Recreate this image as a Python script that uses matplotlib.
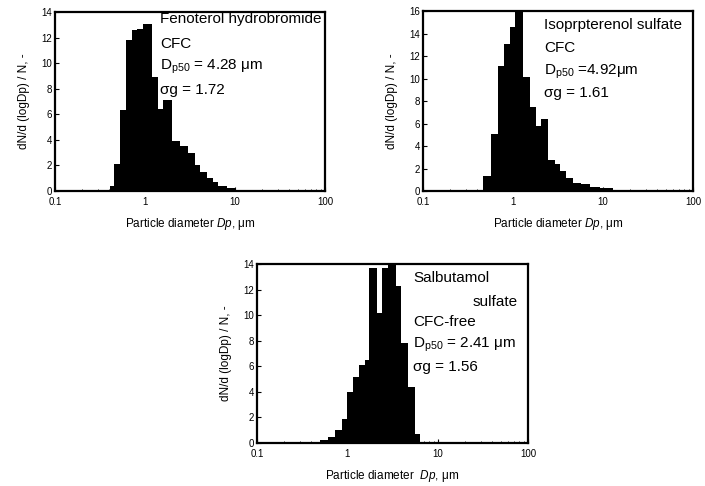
import numpy as np
import matplotlib
matplotlib.use('Agg')
import matplotlib.pyplot as plt

plt.rcParams['font.family'] = ['Liberation Sans', 'DejaVu Sans']
plt.rcParams['mathtext.fontset'] = 'custom'
plt.rcParams['mathtext.rm'] = 'Liberation Sans'
plt.rcParams['mathtext.it'] = 'Liberation Sans:italic'

# bin edges (um) and dN/d(logDp)/N
fen_edges = [0.316, 0.408, 0.456, 0.527, 0.61, 0.711, 0.822, 0.957, 1.205, 1.406,
             1.6, 1.977, 2.449, 3.03, 3.6, 4.08, 4.84, 5.74, 6.53, 8.07, 10.0, 16.0]
fen_vals = [0.1, 0.4, 2.1, 6.3, 11.8, 12.6, 12.7, 13.1, 8.9, 6.4, 7.1,
            3.9, 3.5, 3.0, 2.0, 1.5, 1.0, 0.7, 0.4, 0.2, 0.08]

iso_edges = [0.33, 0.464, 0.574, 0.681, 0.787, 0.918, 1.06, 1.29, 1.53, 1.82, 2.07,
             2.45, 2.9, 3.3, 3.92, 4.64, 5.74, 7.11, 9.18, 12.9, 21.5, 42.7]
iso_vals = [0.1, 1.3, 5.1, 11.1, 13.1, 14.6, 16.2, 10.1, 7.5, 5.8, 6.4,
            2.8, 2.4, 1.8, 1.2, 0.7, 0.6, 0.4, 0.25, 0.12, 0.05]

sal_edges = [0.387, 0.5, 0.617, 0.731, 0.866, 1.0, 1.164, 1.355, 1.567, 1.734,
             2.11, 2.39, 2.83, 3.5, 3.97, 4.71, 5.57, 6.44, 10.5]
sal_vals = [0.1, 0.2, 0.5, 1.0, 1.9, 4.0, 5.2, 6.1, 6.5, 13.7,
            10.2, 13.7, 14.0, 12.3, 7.8, 4.4, 0.7, 0.05]

xticks = [0.1, 1, 10, 100]
xticklabels = ['0.1', '1', '10', '100']

fen_text = ['Fenoterol hydrobromide', 'CFC', r'D$_{\mathrm{p50}}$ = 4.28 $\mathrm{\mu}$m', '\u03c3g = 1.72']
iso_text = ['Isoprpterenol sulfate', 'CFC', r'D$_{\mathrm{p50}}$ =4.92$\mathrm{\mu}$m', '\u03c3g = 1.61']
sal_text = ['Salbutamol', 'sulfate', 'CFC-free', r'D$_{\mathrm{p50}}$ = 2.41 $\mathrm{\mu}$m', '\u03c3g = 1.56']

fig = plt.figure(figsize=(7.05, 4.86), dpi=100)
W, H = 705.0, 486.0


def panel(x0, y0, x1, y1, edges, vals, ymax, xlabel):
    ax = fig.add_axes([x0 / W, 1 - y1 / H, (x1 - x0) / W, (y1 - y0) / H])
    ax.stairs(vals, edges, fill=True, color='black')
    ax.set_xscale('log')
    ax.set_xlim(0.1, 100)
    ax.set_ylim(0, ymax)
    ax.set_yticks(range(0, ymax + 1, 2))
    ax.set_xticks(xticks)
    ax.set_xticklabels(xticklabels)
    ax.tick_params(direction='in', labelsize=7, length=3, width=0.8, pad=2)
    ax.tick_params(axis='x', pad=4)
    ax.tick_params(which='minor', direction='in', length=1.5, width=0.6)
    for s in ax.spines.values():
        s.set_linewidth(1.6)
    ax.set_ylabel('dN/d (logDp) / N, -', fontsize=8.5, labelpad=8)
    ax.set_xlabel(xlabel, fontsize=8.5, labelpad=7)
    return ax


ax1 = panel(55, 12, 325, 191, fen_edges, fen_vals, 14, r'Particle diameter $\mathit{Dp}$, $\mathrm{\mu}$m')
for s, yy in zip(fen_text, [19, 44, 67, 90]):
    ax1.text(0.39, 1 - (yy - 12) / 179.0, s, transform=ax1.transAxes, fontsize=11, va='center')

ax2 = panel(423, 11, 693, 191, iso_edges, iso_vals, 16, r'Particle diameter $\mathit{Dp}$, $\mathrm{\mu}$m')
for s, yy in zip(iso_text, [25, 48, 72, 93]):
    ax2.text(0.45, 1 - (yy - 11) / 180.0, s, transform=ax2.transAxes, fontsize=11, va='center')

ax3 = panel(257, 264, 528, 443, sal_edges, sal_vals, 14, r'Particle diameter  $\mathit{Dp}$, $\mathrm{\mu}$m')
for s, xx, yy in zip(sal_text, [0.576, 0.797, 0.576, 0.576, 0.576], [278, 302, 322, 345, 367]):
    ax3.text(xx, 1 - (yy - 264) / 179.0, s, transform=ax3.transAxes, fontsize=11, va='center')

fig.savefig('out.png', dpi=100)
